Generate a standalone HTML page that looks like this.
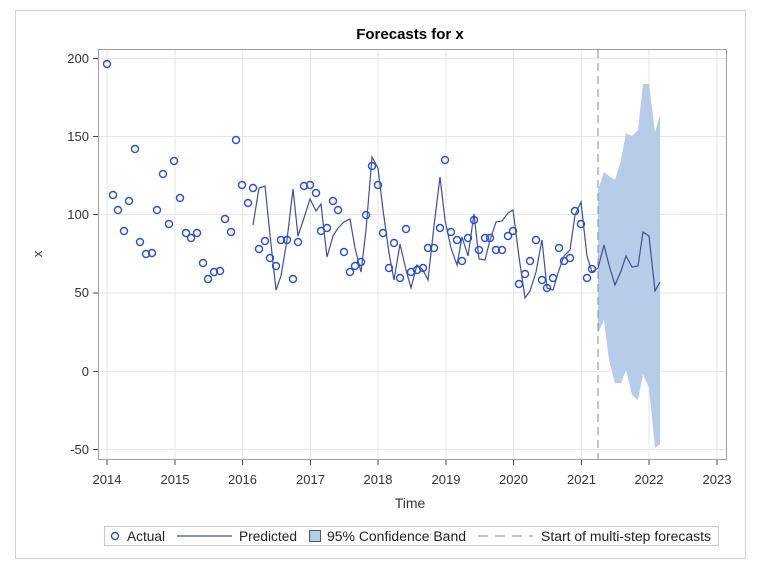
<!DOCTYPE html><html><head><style>body{margin:0;background:#fff;}svg{display:block;font-family:"Liberation Sans",sans-serif;}</style></head><body>
<svg width="773" height="569" viewBox="0 0 773 569">
<rect x="15.5" y="10.5" width="730" height="548" fill="#fff" stroke="#d0d0d0"/>
<text x="410" y="39" font-size="15" font-weight="bold" text-anchor="middle" fill="#000">Forecasts for x</text>
<rect x="98.5" y="49.5" width="628" height="410" fill="#fff" stroke="#a0a0a0"/>
<g stroke="#e6e6e6" stroke-width="1">
<line x1="99" x2="726" y1="58.5" y2="58.5"/><line x1="99" x2="726" y1="136.5" y2="136.5"/><line x1="99" x2="726" y1="214.5" y2="214.5"/><line x1="99" x2="726" y1="293" y2="293"/><line x1="99" x2="726" y1="371.5" y2="371.5"/><line x1="99" x2="726" y1="449.5" y2="449.5"/>
<line y1="50" y2="459" x1="107" x2="107"/><line y1="50" y2="459" x1="175" x2="175"/><line y1="50" y2="459" x1="242.5" x2="242.5"/><line y1="50" y2="459" x1="310.5" x2="310.5"/><line y1="50" y2="459" x1="378" x2="378"/><line y1="50" y2="459" x1="446" x2="446"/><line y1="50" y2="459" x1="513.5" x2="513.5"/><line y1="50" y2="459" x1="581.5" x2="581.5"/><line y1="50" y2="459" x1="649" x2="649"/><line y1="50" y2="459" x1="717" x2="717"/>
</g>
<g stroke="#444"><line x1="93" x2="98" y1="58.5" y2="58.5"/><line x1="93" x2="98" y1="136.5" y2="136.5"/><line x1="93" x2="98" y1="214.5" y2="214.5"/><line x1="93" x2="98" y1="293" y2="293"/><line x1="93" x2="98" y1="371.5" y2="371.5"/><line x1="93" x2="98" y1="449.5" y2="449.5"/>
<line y1="460" y2="465" x1="107" x2="107"/><line y1="460" y2="465" x1="175" x2="175"/><line y1="460" y2="465" x1="242.5" x2="242.5"/><line y1="460" y2="465" x1="310.5" x2="310.5"/><line y1="460" y2="465" x1="378" x2="378"/><line y1="460" y2="465" x1="446" x2="446"/><line y1="460" y2="465" x1="513.5" x2="513.5"/><line y1="460" y2="465" x1="581.5" x2="581.5"/><line y1="460" y2="465" x1="649" x2="649"/><line y1="460" y2="465" x1="717" x2="717"/></g>
<g font-size="13" fill="#333" text-anchor="end"><text x="89" y="63">200</text><text x="89" y="141">150</text><text x="89" y="219">100</text><text x="89" y="297">50</text><text x="89" y="376">0</text><text x="89" y="454">-50</text></g>
<g font-size="13" fill="#333" text-anchor="middle"><text x="107" y="484">2014</text><text x="175" y="484">2015</text><text x="242.5" y="484">2016</text><text x="310.5" y="484">2017</text><text x="378" y="484">2018</text><text x="446" y="484">2019</text><text x="513.5" y="484">2020</text><text x="581.5" y="484">2021</text><text x="649" y="484">2022</text><text x="717" y="484">2023</text></g>
<text x="410" y="508" font-size="14" fill="#333" text-anchor="middle">Time</text>
<text x="42" y="254" font-size="13" fill="#333" text-anchor="middle" transform="rotate(-90 42 254)">x</text>
<polygon fill="#b6cce8" points="598,190 604,172 609,176 615,180 621,160 626,133 632,136 638,130 643,84 649,84 655,132 660,115 660,444 655,448 649,388 643,374 638,400 632,395 626,370 621,383 615,383 609,360 604,320 598,333"/>
<line x1="598" x2="598" y1="50" y2="459" stroke="#888" stroke-dasharray="8,5"/>
<polyline fill="none" stroke="#3d4f9c" stroke-width="1.2" points="253,225 259,188 265,186 270,235 276,290 281,276 287,240 293,189 298,236 304,218 310,199 316,211 321,204 327,257 333,236 338,228 344,222 350,219 355,248 361,272 366,230 372,157 378,168 383,210 389,253 394,280 400,244 406,270 411,288 417,265 423,270 428,280 434,226 440,177 445,220 451,248 457,265 462,237 468,256 474,214 479,259 485,260 490,240 496,222 502,221 508,213 513,210 519,257 525,298 530,291 536,272 542,240 547,288 553,290 559,270 564,256 570,250 575,215 581,202 587,256 592,272 598,268 604,245 609,265 615,285 621,271 626,256 632,267 638,266 643,232 649,236 655,291 660,282"/>
<g fill="none" stroke="#2a4fbf" stroke-width="1.4">
<circle cx="107" cy="64" r="3.5"/><circle cx="113" cy="195" r="3.5"/><circle cx="118" cy="210" r="3.5"/><circle cx="124" cy="231" r="3.5"/><circle cx="129" cy="201" r="3.5"/><circle cx="135" cy="149" r="3.5"/><circle cx="140" cy="242" r="3.5"/><circle cx="146" cy="254" r="3.5"/><circle cx="152" cy="253" r="3.5"/><circle cx="157" cy="210" r="3.5"/><circle cx="163" cy="174" r="3.5"/><circle cx="169" cy="224" r="3.5"/><circle cx="174" cy="161" r="3.5"/><circle cx="180" cy="198" r="3.5"/><circle cx="186" cy="233" r="3.5"/><circle cx="191" cy="238" r="3.5"/><circle cx="197" cy="233" r="3.5"/><circle cx="203" cy="263" r="3.5"/><circle cx="208" cy="279" r="3.5"/><circle cx="214" cy="272" r="3.5"/><circle cx="220" cy="271" r="3.5"/><circle cx="225" cy="219" r="3.5"/><circle cx="231" cy="232" r="3.5"/><circle cx="236" cy="140" r="3.5"/><circle cx="242" cy="185" r="3.5"/><circle cx="248" cy="203" r="3.5"/><circle cx="253" cy="188" r="3.5"/><circle cx="259" cy="249" r="3.5"/><circle cx="265" cy="241" r="3.5"/><circle cx="270" cy="258" r="3.5"/><circle cx="276" cy="266" r="3.5"/><circle cx="281" cy="240" r="3.5"/><circle cx="287" cy="240" r="3.5"/><circle cx="293" cy="279" r="3.5"/><circle cx="298" cy="242" r="3.5"/><circle cx="304" cy="186" r="3.5"/><circle cx="310" cy="185" r="3.5"/><circle cx="316" cy="193" r="3.5"/><circle cx="321" cy="231" r="3.5"/><circle cx="327" cy="228" r="3.5"/><circle cx="333" cy="201" r="3.5"/><circle cx="338" cy="210" r="3.5"/><circle cx="344" cy="252" r="3.5"/><circle cx="350" cy="272" r="3.5"/><circle cx="355" cy="266" r="3.5"/><circle cx="361" cy="262" r="3.5"/><circle cx="366" cy="215" r="3.5"/><circle cx="372" cy="166" r="3.5"/><circle cx="378" cy="185" r="3.5"/><circle cx="383" cy="233" r="3.5"/><circle cx="389" cy="268" r="3.5"/><circle cx="394" cy="243" r="3.5"/><circle cx="400" cy="278" r="3.5"/><circle cx="406" cy="229" r="3.5"/><circle cx="411" cy="272" r="3.5"/><circle cx="417" cy="270" r="3.5"/><circle cx="423" cy="268" r="3.5"/><circle cx="428" cy="248" r="3.5"/><circle cx="434" cy="248" r="3.5"/><circle cx="440" cy="228" r="3.5"/><circle cx="445" cy="160" r="3.5"/><circle cx="451" cy="232" r="3.5"/><circle cx="457" cy="240" r="3.5"/><circle cx="462" cy="261" r="3.5"/><circle cx="468" cy="238" r="3.5"/><circle cx="474" cy="220" r="3.5"/><circle cx="479" cy="250" r="3.5"/><circle cx="485" cy="238" r="3.5"/><circle cx="490" cy="238" r="3.5"/><circle cx="496" cy="250" r="3.5"/><circle cx="502" cy="250" r="3.5"/><circle cx="508" cy="236" r="3.5"/><circle cx="513" cy="231" r="3.5"/><circle cx="519" cy="284" r="3.5"/><circle cx="525" cy="274" r="3.5"/><circle cx="530" cy="261" r="3.5"/><circle cx="536" cy="240" r="3.5"/><circle cx="542" cy="280" r="3.5"/><circle cx="547" cy="288" r="3.5"/><circle cx="553" cy="278" r="3.5"/><circle cx="559" cy="248" r="3.5"/><circle cx="564" cy="261" r="3.5"/><circle cx="570" cy="258" r="3.5"/><circle cx="575" cy="211" r="3.5"/><circle cx="581" cy="224" r="3.5"/><circle cx="587" cy="278" r="3.5"/><circle cx="592" cy="269" r="3.5"/>
</g>
<rect x="104.5" y="526.5" width="614" height="19" fill="#fff" stroke="#c8c8c8"/>
<circle cx="115" cy="536" r="3.5" fill="none" stroke="#2a4fbf" stroke-width="1.4"/>
<g font-size="13.5" fill="#222"><text x="127" y="541" textLength="38" lengthAdjust="spacingAndGlyphs">Actual</text><text x="239" y="541" textLength="58" lengthAdjust="spacingAndGlyphs">Predicted</text><text x="327" y="541" textLength="139" lengthAdjust="spacingAndGlyphs">95% Confidence Band</text><text x="541" y="541" textLength="170" lengthAdjust="spacingAndGlyphs">Start of multi-step forecasts</text></g>
<line x1="177" x2="232" y1="536" y2="536" stroke="#3d4f9c" stroke-width="1.2"/>
<rect x="309.5" y="530.5" width="11" height="11" fill="#b6cce8" stroke="#555"/>
<line x1="478" x2="533" y1="536" y2="536" stroke="#888" stroke-dasharray="10,7"/>
</svg>
</body></html>
